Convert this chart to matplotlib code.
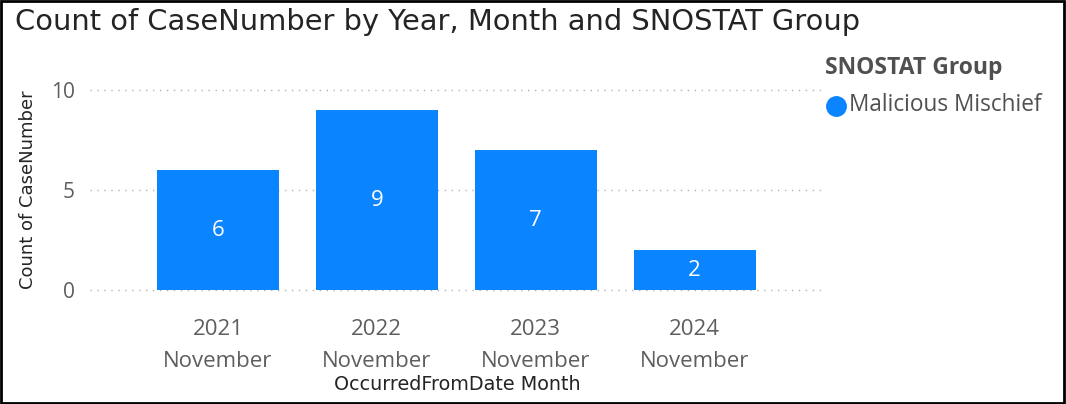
import matplotlib.pyplot as plt
from matplotlib.patches import Rectangle

years = ['2021', '2022', '2023', '2024']
months = ['November', 'November', 'November', 'November']
counts = [6, 9, 7, 2]
series_name = 'Malicious Mischief'
legend_title = 'SNOSTAT Group'

bar_color = '#0B84FF'
tick_color = '#605E5C'

fig = plt.figure(figsize=(10.66, 4.04), dpi=100)
ax = fig.add_axes([90 / 1066, 1 - 290 / 404, 735 / 1066, 200 / 404])

x = list(range(len(counts)))
ax.bar(x, counts, width=0.77, color=bar_color, zorder=3)
for xi, c in zip(x, counts):
    ax.text(xi, c / 2, str(c), ha='center', va='center', color='white',
            fontsize=16, family='Open Sans', zorder=4)

ax.set_xlim(-0.805, 3.82)
ax.set_ylim(0, 10)
ax.set_yticks([0, 5, 10])
ax.set_xticks(x)
ax.set_xticklabels([y + '\n' + m for y, m in zip(years, months)],
                   fontsize=16, color=tick_color, family='Open Sans', linespacing=1.66)
ax.tick_params(axis='y', labelsize=15, labelcolor=tick_color, length=0, pad=11)
ax.tick_params(axis='x', length=0, pad=21)
for lab in ax.get_yticklabels():
    lab.set_family('Open Sans')
ax.yaxis.grid(True, linestyle=(0, (1, 4)), color='#B0B0B0', linewidth=1)
for gl in ax.get_ygridlines():
    gl.set_clip_on(False)
for s in ax.spines.values():
    s.set_visible(False)

ax.set_xlabel('OccurredFromDate Month', fontsize=13.8, color='#252423', labelpad=2, family='DejaVu Sans')
ax.set_ylabel('Count of CaseNumber', fontsize=13, color='#252423', labelpad=10, family='DejaVu Sans')

fig.text(15 / 1066, 1 - 22 / 404, 'Count of CaseNumber by Year, Month and SNOSTAT Group',
         fontsize=20.8, color='#252423', va='center', ha='left', family='DejaVu Sans')

fig.text(825 / 1066, 1 - 68 / 404, legend_title, fontsize=16.5, fontweight='bold',
         color='#505050', va='center', ha='left', family='Open Sans')
fig.text(849 / 1066, 1 - 105 / 404, series_name, fontsize=16.3, color='#505050',
         va='center', ha='left', family='Open Sans')
fig.lines.append(plt.Line2D([836 / 1066], [1 - 106 / 404], marker='o', markersize=14,
                            color=bar_color, transform=fig.transFigure))

fig.patches.append(Rectangle((0.001, 0.002), 0.997, 0.995, transform=fig.transFigure,
                             fill=False, edgecolor='black', linewidth=2))

fig.savefig('out.png', dpi=100)
